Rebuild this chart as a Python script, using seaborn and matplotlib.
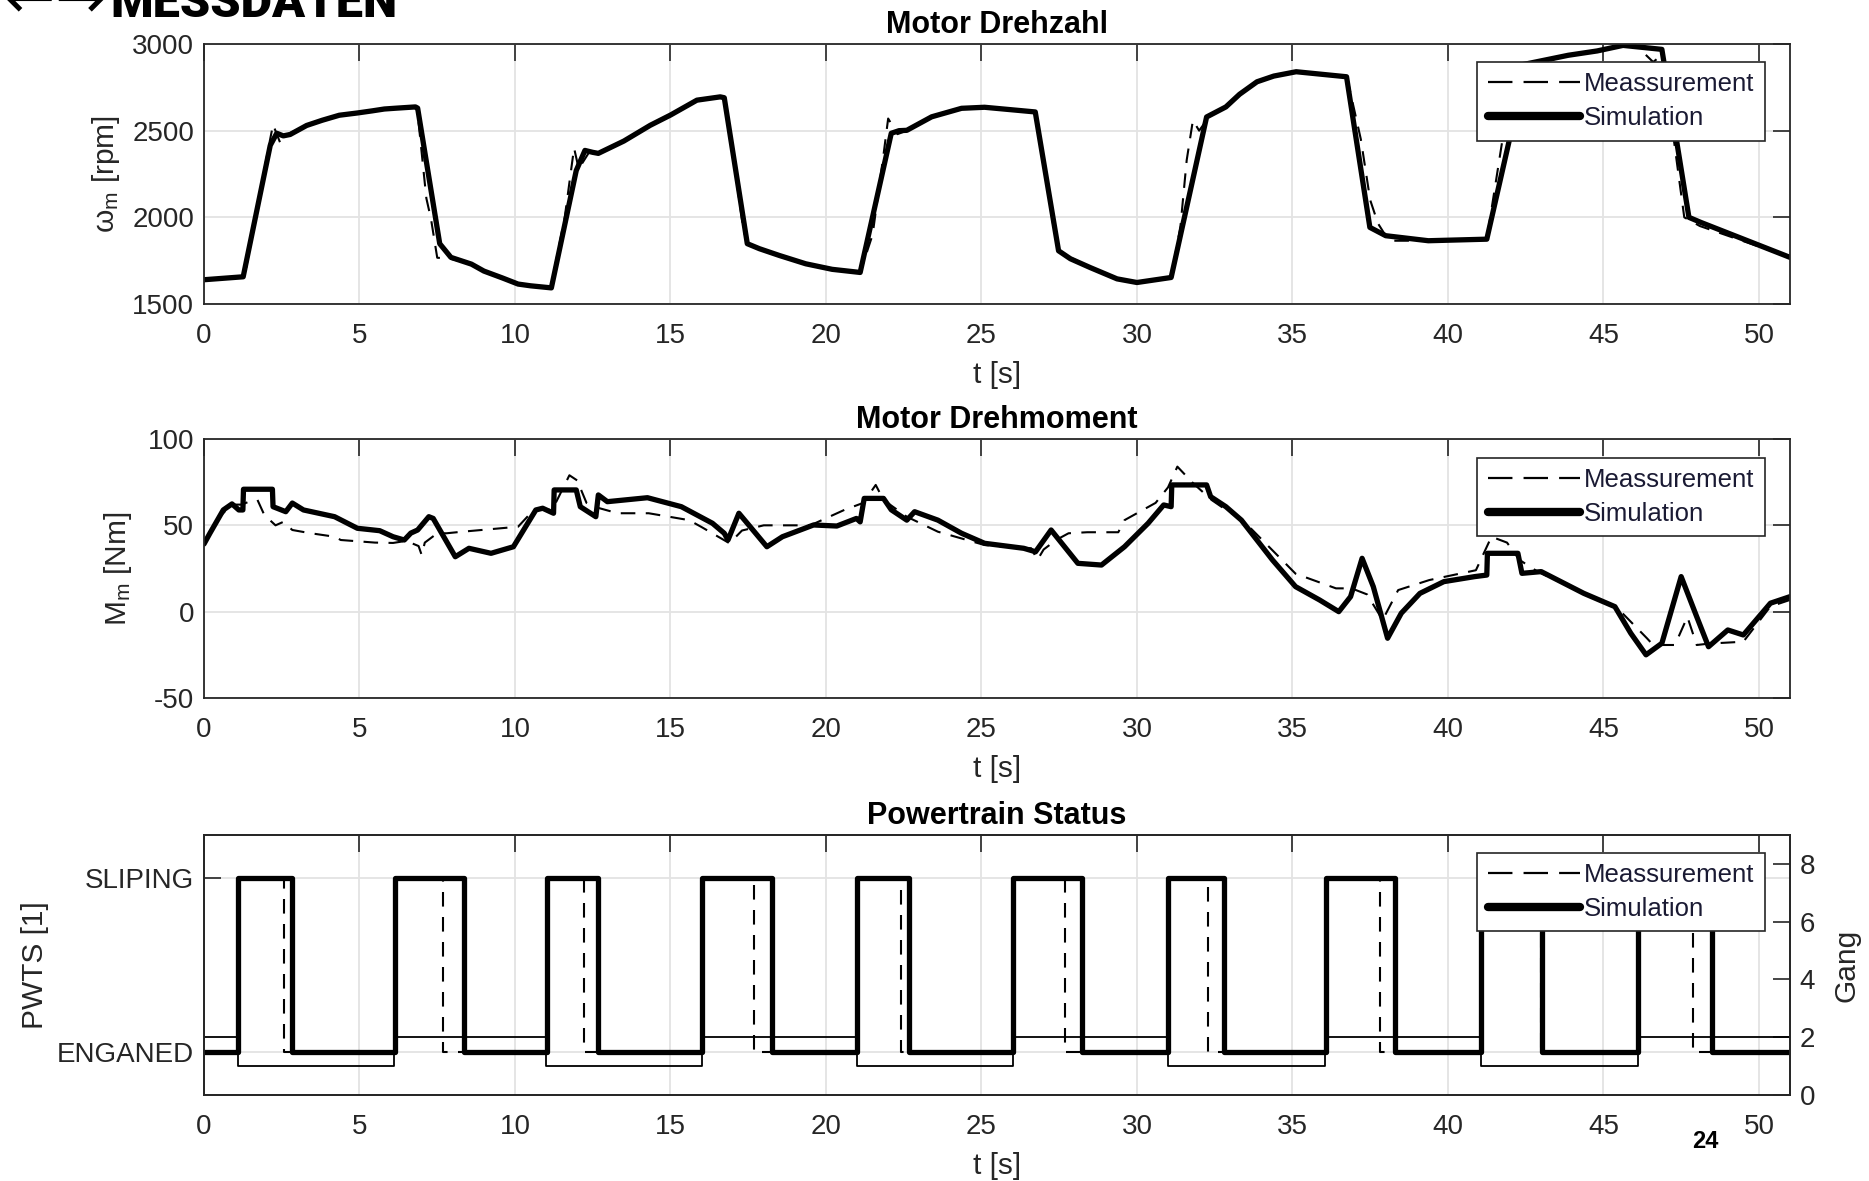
import matplotlib
matplotlib.use("Agg")
import matplotlib.pyplot as plt
import seaborn as sns
import pandas as pd
from matplotlib.lines import Line2D

# ---------------- data ----------------
x_ticks = [0, 5, 10, 15, 20, 25, 30, 35, 40, 45, 50]

# Motor Drehzahl (rpm)
rpm_sim_t = [0.0, 1.26, 2.13, 2.34, 2.55, 2.77, 3.3, 3.8, 4.35, 4.93, 5.4, 5.8, 6.2, 6.8, 6.87,
             7.58, 7.94, 8.6, 9.0, 9.6, 10.1, 10.5, 11.17, 11.97, 12.25, 12.5, 12.68, 13.5, 14.35,
             15.0, 15.85, 16.6, 16.73, 17.47, 17.86, 18.5, 19.35, 20.2, 21.1, 22.1, 22.35, 22.6,
             23.4, 24.36, 25.1, 26.73, 27.48, 27.86, 28.5, 29.36, 30.0, 31.1, 32.24, 32.86, 33.3,
             33.86, 34.4, 35.12, 36.74, 37.49, 38.0, 39.37, 41.25, 42.12, 42.38, 43.87, 44.8, 45.63,
             46.88, 47.75, 48.13, 51.0]
rpm_sim = [1640, 1657, 2415, 2485, 2470, 2478, 2530, 2560, 2589, 2602, 2614, 2625, 2630, 2637, 2630,
           1848, 1769, 1730, 1690, 1650, 1615, 1605, 1593, 2270, 2386, 2375, 2369, 2440, 2531,
           2590, 2676, 2695, 2690, 1848, 1819, 1780, 1732, 1700, 1682, 2485, 2500, 2502,
           2580, 2629, 2635, 2608, 1807, 1761, 1710, 1645, 1624, 1653, 2579, 2637, 2710,
           2782, 2815, 2840, 2811, 1942, 1894, 1865, 1874, 2560, 2880, 2935, 2960, 2992,
           2969, 2000, 1971, 1769]
rpm_meas_t = [0.0, 1.3, 2.05, 2.22, 2.45, 2.7, 3.3, 3.8, 4.35, 4.93, 5.4, 5.8, 6.2, 6.8, 6.85,
              7.15, 7.3, 7.5, 7.95, 8.6, 9.0, 9.6, 10.1, 10.5, 11.15, 11.6, 11.9, 12.05, 12.4, 12.7,
              13.5, 14.35, 15.0, 15.85, 16.6, 16.75, 17.35, 17.5, 17.9, 18.5, 19.35, 20.2, 21.1,
              21.5, 21.85, 22.0, 22.3, 22.6, 23.4, 24.36, 25.1, 26.75, 27.35, 27.5, 27.9, 28.5,
              29.36, 30.0, 31.1, 31.4, 31.6, 31.8, 32.0, 32.4, 32.86, 33.3, 33.86, 34.4, 35.12,
              36.75, 37.2, 37.5, 37.75, 38.1, 39.37, 41.25, 41.8, 42.2, 43.87, 44.8, 45.63, 46.1,
              46.6, 46.9, 47.3, 47.6, 48.1, 51.0]
rpm_meas = [1640, 1655, 2380, 2535, 2430, 2480, 2530, 2560, 2589, 2602, 2614, 2625, 2630, 2637, 2635,
            2110, 1990, 1767, 1760, 1730, 1690, 1650, 1615, 1605, 1593, 2000, 2400, 2280, 2380, 2370,
            2440, 2531, 2590, 2676, 2695, 2690, 1923, 1840, 1815, 1780, 1732, 1700, 1682,
            1900, 2360, 2570, 2480, 2500, 2580, 2629, 2635, 2608, 1906, 1790, 1765, 1710,
            1645, 1624, 1653, 1950, 2330, 2560, 2500, 2600, 2637, 2710, 2782, 2815, 2840,
            2811, 2450, 2100, 1965, 1865, 1865, 1874, 2500, 2850, 2935, 2960, 2992, 2983,
            2896, 2940, 2400, 2000, 1950, 1769]

# Motor Drehmoment (Nm)
trq_sim_t = [0.0, 0.19, 0.62, 0.9, 1.12, 1.25, 1.27, 2.2, 2.22, 2.63,
             2.84, 3.2, 4.2, 4.93, 5.65, 6.08, 6.44, 6.65, 6.87, 7.23,
             7.37, 8.08, 8.52, 9.23, 9.95, 10.67, 10.89, 11.24, 11.26, 11.97,
             12.1, 12.6, 12.68, 12.97, 14.26, 15.35, 16.35, 16.73, 16.85, 17.2,
             17.47, 18.1, 18.6, 19.6, 20.35, 20.98, 21.1, 21.23, 21.85, 22.1,
             22.6, 22.85, 23.6, 24.36, 25.1, 26.36, 26.74, 27.24, 28.1, 28.86,
             29.6, 30.36, 30.86, 31.1, 31.12, 32.24, 32.37, 32.86, 33.36, 34.36,
             35.1, 35.87, 36.49, 36.87, 37.24, 37.6, 38.06, 38.5, 39.1, 39.87,
             40.86, 41.25, 41.27, 42.25, 42.38, 43.0, 44.37, 45.37, 45.88, 46.37,
             46.88, 47.5, 48.0, 48.38, 49.0, 49.5, 50.37, 51.0]
trq_sim = [39.2, 45.4, 58.9, 62.4, 58.9, 58.9, 70.9, 70.9, 60.8, 57.9,
           62.9, 58.9, 55.0, 48.3, 46.9, 43.4, 41.5, 45.5, 47.3, 55.0,
           54.0, 31.8, 36.7, 33.8, 37.6, 58.9, 59.9, 57.0, 70.5, 70.5,
           60.8, 55.0, 67.6, 63.7, 66.0, 60.8, 51.2, 45.4, 41.5, 57.0,
           51.2, 37.6, 43.4, 50.2, 49.6, 54.0, 52.0, 65.6, 65.6, 59.0,
           53.0, 57.9, 53.0, 45.4, 39.6, 36.7, 34.7, 47.3, 28.0, 27.0,
           37.6, 51.2, 61.8, 60.8, 73.4, 73.4, 66.6, 60.8, 53.0, 29.9,
           14.5, 6.8, 0.0, 8.7, 30.9, 14.5, -15.4, -0.9, 10.6, 17.4,
           20.3, 21.2, 33.8, 33.8, 22.2, 23.2, 10.6, 2.9, -12.5, -25.0,
           -18.3, 20.3, -2.9, -20.3, -10.6, -13.5, 4.9, 8.7]
trq_meas_t = [0.0, 0.5, 0.9, 1.2, 1.5, 1.72, 1.94, 2.3, 2.55, 2.84,
              3.4, 4.2, 4.4, 5.5, 6.08, 6.5, 6.9, 7.0, 7.1, 7.5,
              7.8, 8.3, 10.1, 10.6, 11.2, 11.75, 12.0, 12.3, 12.7, 13.3,
              13.9, 14.3, 15.6, 16.0, 16.9, 17.3, 18.0, 19.5, 20.6, 21.2,
              21.6, 21.85, 22.6, 23.6, 25.1, 25.5, 26.6, 26.8, 27.0, 27.4,
              27.8, 28.4, 29.4, 29.6, 30.6, 31.0, 31.3, 31.8, 32.4, 32.86,
              33.4, 35.1, 36.4, 36.9, 37.4, 37.9, 38.4, 39.4, 40.9, 41.4,
              41.9, 42.3, 42.9, 44.4, 45.4, 46.4, 46.6, 47.3, 47.7, 48.0,
              48.4, 49.5, 50.37, 51.0]
trq_meas = [39.2, 55.0, 62.0, 62.0, 64.0, 64.7, 56.0, 50.0, 52.0, 47.3,
            45.5, 43.4, 41.5, 40.0, 39.8, 41.0, 38.0, 32.8, 40.0, 45.4,
            45.4, 46.3, 49.2, 58.9, 59.0, 79.0, 76.0, 63.0, 60.0, 57.0,
            57.0, 57.0, 53.0, 49.0, 39.6, 47.0, 50.0, 50.0, 59.0, 63.0,
            73.4, 64.7, 55.0, 46.3, 38.6, 38.0, 36.7, 30.0, 36.0, 41.5,
            45.4, 46.0, 46.0, 53.0, 63.0, 72.0, 84.0, 74.5, 64.7, 59.0,
            53.0, 22.0, 13.5, 13.5, 10.0, -4.8, 12.5, 18.3, 24.0, 43.4,
            40.0, 30.0, 23.0, 10.6, 3.0, -15.4, -19.3, -19.3, -3.0, -19.3,
            -18.5, -17.4, 3.0, 6.8]

# Powertrain Status (0 = ENGANED, 1 = SLIPING) and gear
pwts_labels = ["ENGANED", "SLIPING"]
pwts_sim_t = [0.0, 1.09, 2.84, 6.13, 8.37, 11.02, 12.68, 16.02, 18.27, 21.0, 22.68, 26.03, 28.24,
              31.0, 32.8, 36.07, 38.3, 41.06, 43.04, 46.1, 48.48, 51.0]
pwts_sim = [0, 1, 0, 1, 0, 1, 0, 1, 0, 1, 0, 1, 0, 1, 0, 1, 0, 1, 0, 1, 0, 0]
pwts_meas_t = [0.0, 1.09, 2.58, 6.13, 7.7, 11.02, 12.22, 16.02, 17.68, 21.0, 22.4, 26.03, 27.7,
               31.0, 32.3, 36.07, 37.8, 41.06, 43.0, 46.1, 47.87, 51.0]
pwts_meas = [0, 1, 0, 1, 0, 1, 0, 1, 0, 1, 0, 1, 0, 1, 0, 1, 0, 1, 0, 1, 0, 0]
gear_t = [0.0, 1.09, 6.1, 11.0, 16.0, 21.0, 26.0, 31.0, 36.05, 41.06, 46.1, 51.0]
gear = [2, 1, 2, 1, 2, 1, 2, 1, 2, 1, 2, 2]
gear_ticks = [0, 2, 4, 6, 8]

# ---------------- styling ----------------
sns.set_theme(style="white")
plt.rcParams["font.family"] = ["Liberation Sans", "DejaVu Sans"]
plt.rcParams["mathtext.default"] = "regular"
plt.rcParams["axes.unicode_minus"] = False

DARK = "#262626"
GRID = "#e3e3e3"
DASH = (0, (7, 5))
W, H = 1869, 1181

fig = plt.figure(figsize=(W / 100, H / 100), dpi=100)


def px_axes(left, top, right, bottom):
    return fig.add_axes([left / W, 1 - bottom / H, (right - left) / W, (bottom - top) / H])


ax1 = px_axes(204, 44, 1790, 304)
ax2 = px_axes(204, 439, 1790, 698)
ax3 = px_axes(204, 835, 1790, 1095)


def style(ax, right=True):
    ax.set_xlim(0, 51)
    ax.set_xticks(x_ticks)
    ax.tick_params(direction="in", length=12, width=1.2, top=True, right=right,
                   colors=DARK, labelsize=20, pad=7)
    ax.tick_params(axis="x", pad=14)
    ax.grid(True, color=GRID, lw=1.3)
    ax.set_axisbelow(True)
    for s in ax.spines.values():
        s.set_color(DARK)
        s.set_linewidth(1.3)
    ax.set_xlabel("t [s]", fontsize=21.5, color=DARK, labelpad=8.5)


def legend(ax, top_frac):
    handles = [Line2D([], [], color="black", lw=1.6, ls=(0, (11, 5))),
               Line2D([], [], color="black", lw=6.0)]
    leg = ax.legend(handles, ["Meassurement", "Simulation"], loc="upper right",
                    bbox_to_anchor=(0.984, top_frac), fontsize=18.5, frameon=True,
                    fancybox=False, framealpha=1, edgecolor=DARK, handlelength=3.6,
                    handletextpad=0.15, borderpad=0.4, labelspacing=0.38,
                    borderaxespad=0)
    leg.get_frame().set_linewidth(1.2)
    for t in leg.get_texts():
        t.set_color("#1a1a33")
    return leg


# --- panel 1: speed
sns.lineplot(x=rpm_meas_t, y=rpm_meas, ax=ax1, color="black", lw=1.5, linestyle=DASH,
             estimator=None, sort=False)
sns.lineplot(x=rpm_sim_t, y=rpm_sim, ax=ax1, color="black", lw=3.8,
             estimator=None, sort=False)
style(ax1)
ax1.set_ylim(1500, 3000)
ax1.set_yticks([1500, 2000, 2500, 3000])
ax1.set_ylabel(r"$\omega_m$ [rpm]", fontsize=21.5, color=DARK)
ax1.yaxis.set_label_coords(-0.052, 0.5)
ax1.set_title("Motor Drehzahl", fontsize=22, fontweight="bold", color="black", pad=8)
legend(ax1, 0.93)

# --- panel 2: torque
sns.lineplot(x=trq_meas_t, y=trq_meas, ax=ax2, color="black", lw=1.5, linestyle=DASH,
             estimator=None, sort=False)
sns.lineplot(x=trq_sim_t, y=trq_sim, ax=ax2, color="black", lw=3.8,
             estimator=None, sort=False)
style(ax2)
ax2.set_ylim(-50, 100)
ax2.set_yticks([-50, 0, 50, 100])
ax2.set_ylabel(r"$M_m$ [Nm]", fontsize=21.5, color=DARK)
ax2.yaxis.set_label_coords(-0.044, 0.5)
ax2.set_title("Motor Drehmoment", fontsize=22, fontweight="bold", color="black", pad=8)
legend(ax2, 0.927)

# --- panel 3: powertrain status
sns.lineplot(x=pwts_meas_t, y=pwts_meas, ax=ax3, color="black", lw=1.5, linestyle=DASH,
             drawstyle="steps-post", estimator=None, sort=False)
sns.lineplot(x=pwts_sim_t, y=pwts_sim, ax=ax3, color="black", lw=3.8,
             drawstyle="steps-post", estimator=None, sort=False)
style(ax3, right=False)
ax3.set_ylim(-0.25, 1.25)
ax3.set_yticks([0, 1])
ax3.set_yticklabels(pwts_labels)
ax3.set_ylabel("PWTS [1]", fontsize=21.5, color=DARK)
ax3.yaxis.set_label_coords(-0.098, 0.5)
ax3.set_title("Powertrain Status", fontsize=22, fontweight="bold", color="black", pad=8)

ax3b = ax3.twinx()
sns.lineplot(x=gear_t, y=gear, ax=ax3b, color="black", lw=1.3,
             drawstyle="steps-post", estimator=None, sort=False)
ax3b.set_ylim(0, 9)
ax3b.set_yticks(gear_ticks)
ax3b.grid(False)
ax3b.tick_params(axis="y", direction="in", length=12, width=1.2, colors=DARK,
                 labelsize=20, pad=7, right=True, left=False)
for s in ax3b.spines.values():
    s.set_color(DARK)
    s.set_linewidth(1.3)
ax3b.set_ylabel("Gang", fontsize=21.5, color=DARK)
ax3b.yaxis.set_label_coords(1.0265, 0.5)
legend(ax3b, 0.931)

# slide decorations (header is cut off at the top edge as in the reference)
fig.text(110 / W, 1 - 17 / H, "MESSDATEN", fontsize=35, fontweight="black",
         family=["Roboto", "Liberation Sans", "DejaVu Sans"], color="black",
         ha="left", va="baseline")
fig.text(4 / W, 1 - 2 / H, "\u2190\u2192", fontsize=44, color="black",
         family=["DejaVu Sans"], ha="left", va="center")
fig.text(1705 / W, 1 - 1142 / H, "24", fontsize=17, fontweight="bold",
         color="black", ha="center", va="center")

fig.savefig("out.png", dpi=100)
